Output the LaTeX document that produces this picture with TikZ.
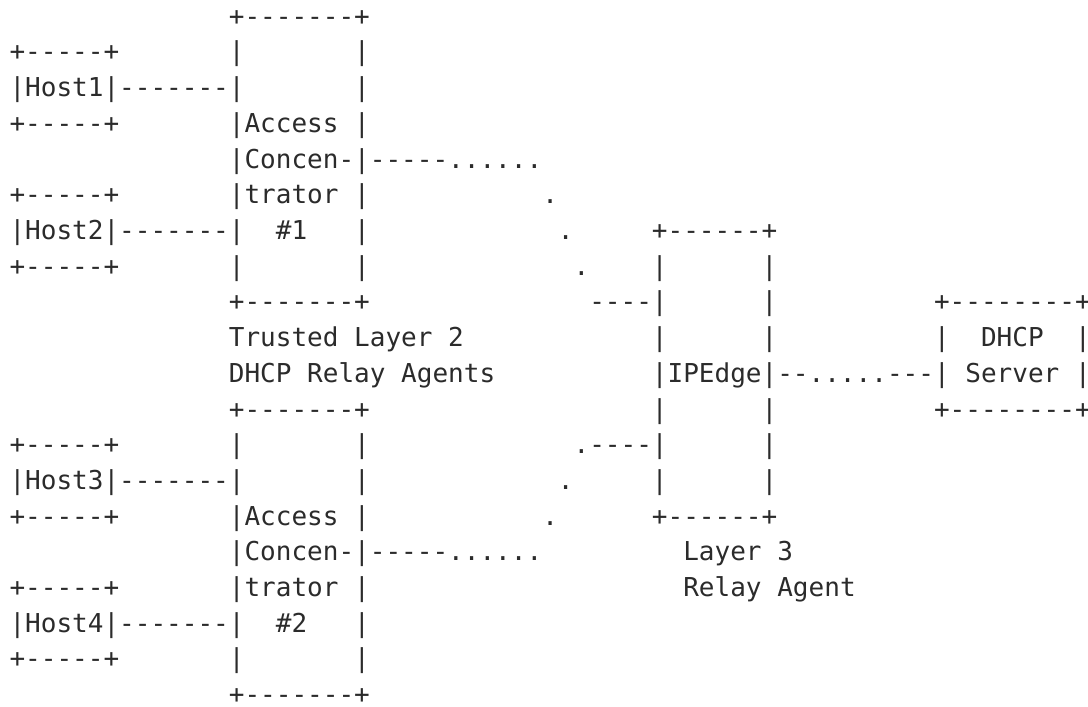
\documentclass[tikz,border=0pt]{standalone}
\usepackage{fontspec}
\setmonofont{DejaVu Sans Mono}
\definecolor{ink}{HTML}{2B2B2B}
\begin{document}
\begin{tikzpicture}[x=11.7525pt,y=-26.775pt,
  t/.style={anchor=base west,inner sep=0pt,outer sep=0pt,
    font=\ttfamily\fontsize{19.52pt}{24pt}\selectfont,text=ink}]
\useasboundingbox (-0.6063,-0.7087) rectangle (68.826,19.095);
% row 0
\node[t] (c1t) at (14,0) {+-------+};
% row 1
\node[t] (h1t) at (0,1) {+-----+};
\node[t] (c1l1) at (14,1) {|};
\node[t] (c1r1) at (22,1) {|};
% row 2
\node[t] (h1m) at (0,2) {|Host1|-------|};
\node[t] (c1r2) at (22,2) {|};
% row 3
\node[t] (h1b) at (0,3) {+-----+};
\node[t] (c1l3) at (14,3) {|Access};
\node[t] (c1r3) at (22,3) {|};
% row 4
\node[t] (c1l4) at (14,4) {|Concen-|-----......};
% row 5
\node[t] (h2t) at (0,5) {+-----+};
\node[t] (c1l5) at (14,5) {|trator};
\node[t] (c1r5) at (22,5) {|};
\node[t] (d1) at (34,5) {.};
% row 6
\node[t] (h2m) at (0,6) {|Host2|-------|};
\node[t] (c1n) at (17,6) {\#1};
\node[t] (c1r6) at (22,6) {|};
\node[t] (d2) at (35,6) {.};
\node[t] (e0) at (41,6) {+------+};
% row 7
\node[t] (h2b) at (0,7) {+-----+};
\node[t] (c1l7) at (14,7) {|};
\node[t] (c1r7) at (22,7) {|};
\node[t] (d3) at (36,7) {.};
\node[t] (el7) at (41,7) {|};
\node[t] (er7) at (48,7) {|};
% row 8
\node[t] (c1b) at (14,8) {+-------+};
\node[t] (el8) at (37,8) {----|};
\node[t] (er8) at (48,8) {|};
\node[t] (s0) at (59,8) {+--------+};
% row 9
\node[t] (lab1a) at (14,9) {Trusted~Layer~2};
\node[t] (el9) at (41,9) {|};
\node[t] (er9) at (48,9) {|};
\node[t] (sl9) at (59,9) {|};
\node[t] (sn1) at (62,9) {DHCP};
\node[t] (sr9) at (68,9) {|};
% row 10
\node[t] (lab1b) at (14,10) {DHCP~Relay~Agents};
\node[t] (link) at (41,10) {|IPEdge|--.....---|};
\node[t] (sn2) at (61,10) {Server};
\node[t] (sr10) at (68,10) {|};
% row 11
\node[t] (c2t) at (14,11) {+-------+};
\node[t] (el11) at (41,11) {|};
\node[t] (er11) at (48,11) {|};
\node[t] (s1) at (59,11) {+--------+};
% row 12
\node[t] (h3t) at (0,12) {+-----+};
\node[t] (c2l12) at (14,12) {|};
\node[t] (c2r12) at (22,12) {|};
\node[t] (el12) at (36,12) {.----|};
\node[t] (er12) at (48,12) {|};
% row 13
\node[t] (h3m) at (0,13) {|Host3|-------|};
\node[t] (c2r13) at (22,13) {|};
\node[t] (d4) at (35,13) {.};
\node[t] (el13) at (41,13) {|};
\node[t] (er13) at (48,13) {|};
% row 14
\node[t] (h3b) at (0,14) {+-----+};
\node[t] (c2l14) at (14,14) {|Access};
\node[t] (c2r14) at (22,14) {|};
\node[t] (d5) at (34,14) {.};
\node[t] (e1) at (41,14) {+------+};
% row 15
\node[t] (c2l15) at (14,15) {|Concen-|-----......};
\node[t] (lab2a) at (43,15) {Layer~3};
% row 16
\node[t] (h4t) at (0,16) {+-----+};
\node[t] (c2l16) at (14,16) {|trator};
\node[t] (c2r16) at (22,16) {|};
\node[t] (lab2b) at (43,16) {Relay~Agent};
% row 17
\node[t] (h4m) at (0,17) {|Host4|-------|};
\node[t] (c2n) at (17,17) {\#2};
\node[t] (c2r17) at (22,17) {|};
% row 18
\node[t] (h4b) at (0,18) {+-----+};
\node[t] (c2l18) at (14,18) {|};
\node[t] (c2r18) at (22,18) {|};
% row 19
\node[t] (c2b) at (14,19) {+-------+};
\end{tikzpicture}
\end{document}
